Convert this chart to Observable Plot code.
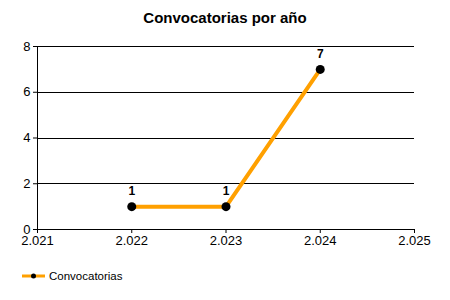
<!DOCTYPE html>
<html>
<head>
<meta charset="utf-8">
<script src="https://cdn.jsdelivr.net/npm/d3@7"></script>
<script src="https://cdn.jsdelivr.net/npm/@observablehq/plot@0.6"></script>
<style>
  html, body { margin: 0; padding: 0; background: #fff; }
  #wrap { position: relative; width: 450px; height: 300px; overflow: hidden; font-family: "Liberation Sans", Arial, sans-serif; }
  #title { position: absolute; top: 9px; left: 0; width: 450px; text-align: center; font-weight: bold; font-size: 15px; color: #000; }
  #chart { position: absolute; top: 0; left: 0; }
  #legend { position: absolute; top: 270px; left: 22px; display: flex; align-items: center; font-size: 11.5px; color: #000; }
  #legend svg { margin-right: 4px; }
</style>
</head>
<body>
<div id="wrap">
  <div id="chart"></div>
  <div id="title">Convocatorias por año</div>
  <div id="legend"></div>
</div>
<script>
const years = [2022, 2023, 2024];
const counts = [1, 1, 7];
const xTicks = [2021, 2022, 2023, 2024, 2025];
const yTicks = [0, 2, 4, 6, 8];
const seriesName = "Convocatorias";
const lineColor = "#FFA000";

const data = years.map((y, i) => ({year: y, value: counts[i]}));
const fmt = d => { const s = String(d); return s.slice(0, s.length - 3) + "." + s.slice(-3); };

const plot = Plot.plot({
  width: 450,
  height: 260,
  marginTop: 46,
  marginBottom: 31,
  marginLeft: 37,
  marginRight: 36,
  style: {fontFamily: "'Liberation Sans', Arial, sans-serif", fontSize: "12px", background: "transparent", color: "#000"},
  x: {domain: [2021, 2025], ticks: xTicks, tickFormat: fmt, label: null},
  y: {domain: [0, 8], ticks: yTicks, label: null},
  marks: [
    Plot.ruleY(yTicks, {stroke: "#000", strokeWidth: 1, shapeRendering: "crispEdges"}),
    Plot.ruleX([2021], {stroke: "#000", strokeWidth: 1, shapeRendering: "crispEdges"}),
    Plot.axisX({ticks: xTicks, tickFormat: fmt, tickSize: 4, tickPadding: 2, fontSize: 13, stroke: "#000", strokeOpacity: 1, label: null}),
    Plot.axisY({ticks: yTicks, tickSize: 4, tickPadding: 3, fontSize: 13, stroke: "#000", strokeOpacity: 1, label: null}),
    Plot.line(data, {x: "year", y: "value", stroke: lineColor, strokeWidth: 4}),
    Plot.dot(data, {x: "year", y: "value", r: 4.5, fill: "#000", stroke: "none"}),
    Plot.text(data, {x: "year", y: "value", text: d => String(d.value), dy: -15, fontWeight: "bold", fontSize: 12, fill: "#000"})
  ]
});
document.getElementById("chart").appendChild(plot);

const lg = document.getElementById("legend");
lg.innerHTML = `<svg width="23" height="10"><line x1="0" x2="23" y1="5" y2="5" stroke="${lineColor}" stroke-width="3"/><circle cx="11.5" cy="5" r="2.5" fill="#000"/></svg><span>${seriesName}</span>`;
</script>
</body>
</html>
